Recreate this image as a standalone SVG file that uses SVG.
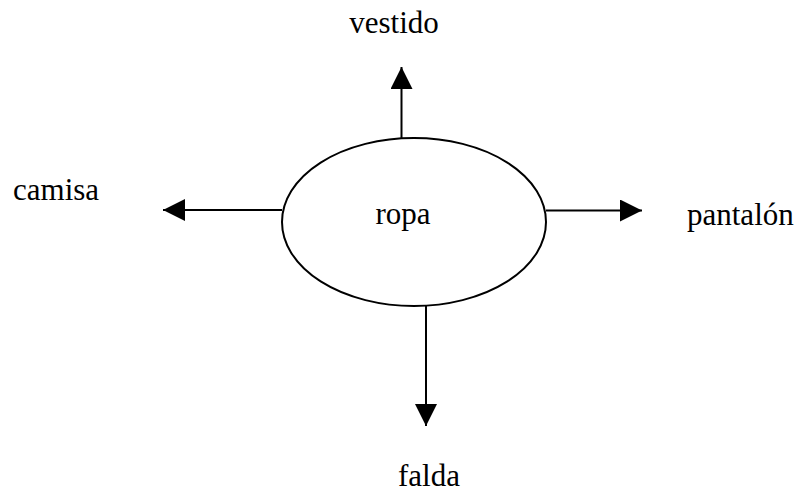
<svg xmlns="http://www.w3.org/2000/svg" width="798" height="493" viewBox="0 0 798 493">
<style>
text{font-family:"Liberation Serif","Times New Roman",serif;font-size:31px;fill:#000}
.ln{stroke:#000;stroke-width:2;fill:none}
</style>
<defs>
<marker id="ah" markerUnits="userSpaceOnUse" markerWidth="22" markerHeight="22" viewBox="0 0 20 20" refX="20" refY="10" orient="auto">
<path d="M0,0 L20,10 L0,20 Z" fill="#000"/>
</marker>
</defs>
<rect width="798" height="493" fill="#fff"/>
<g id="connectors">
<line class="ln" x1="401.5" y1="138" x2="401.5" y2="67" marker-end="url(#ah)"/>
<line class="ln" x1="282" y1="210" x2="163" y2="210" marker-end="url(#ah)"/>
<line class="ln" x1="546" y1="210.5" x2="642" y2="210.5" marker-end="url(#ah)"/>
<line class="ln" x1="426" y1="306" x2="426" y2="426" marker-end="url(#ah)"/>
</g>
<g id="ropa">
<ellipse class="ln" cx="414" cy="222" rx="132" ry="84"/>
<text x="403" y="224" text-anchor="middle">ropa</text>
</g>
<g id="vestido"><text x="394" y="33" text-anchor="middle">vestido</text></g>
<g id="camisa"><text x="13" y="200">camisa</text></g>
<g id="pantalon"><text x="687" y="225">pantalón</text></g>
<g id="falda"><text x="429" y="486" text-anchor="middle">falda</text></g>
</svg>
